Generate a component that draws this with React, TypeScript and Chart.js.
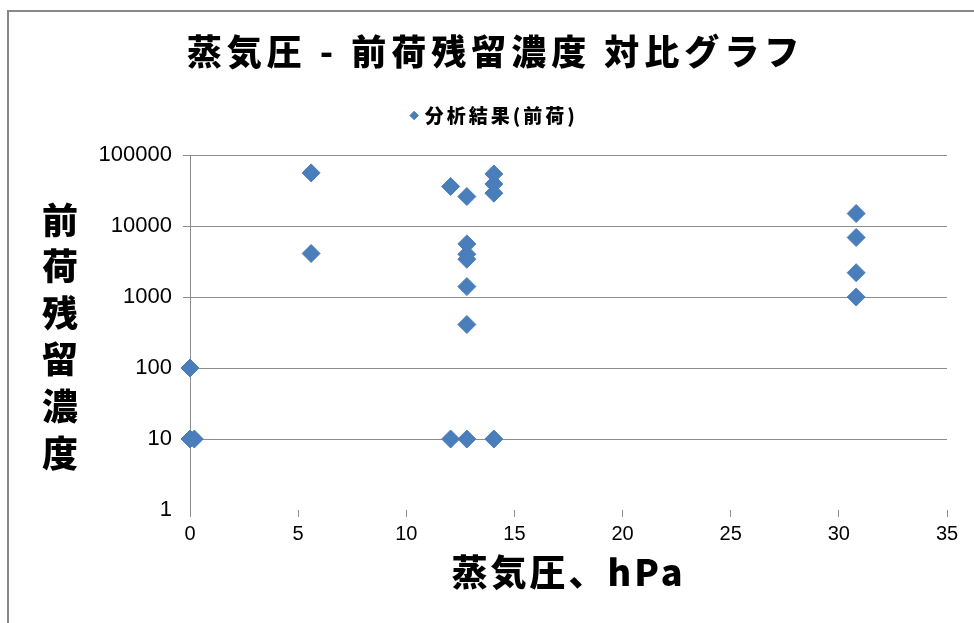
import React, { useEffect, useRef } from 'react';
import { Chart, registerables } from 'chart.js';

Chart.register(...registerables);

const TITLE = '蒸気圧 - 前荷残留濃度 対比グラフ';
const SERIES_LABEL = '分析結果(前荷)';
const X_TITLE = '蒸気圧、hPa';
const Y_TITLE = '前荷残留濃度';

const vaporPressure = [
  0, 0, 0.2, 5.6, 5.6, 12.05, 12.05, 12.8, 12.8, 12.8, 12.8, 12.8, 12.8, 12.8,
  14.05, 14.05, 14.05, 14.05, 30.8, 30.8, 30.8, 30.8,
];
const concentration = [
  100, 10, 10, 56000, 4100, 36000, 10, 26000, 5600, 4000, 3400, 1400, 410, 10,
  54000, 39000, 29000, 10, 15000, 6900, 2200, 1000,
];
const xTickStep = 5;
const xMin = 0;
const xMax = 35;
const yTicks = [1, 10, 100, 1000, 10000, 100000];

const CJK = '"Noto Sans CJK JP", "Noto Sans CJK SC", sans-serif';
const LATIN = '"Liberation Sans", Arial, sans-serif';
const MARKER = '#4A7EBB';
const GRID = '#8C8C8C';

function patchSpacing(obj: any, methods: string[], spacing: string, after?: (o: any) => void) {
  if (!obj) return;
  methods.forEach((m) => {
    const orig = obj[m].bind(obj);
    obj[m] = (...args: any[]) => {
      const ctx = obj.ctx as any;
      const prev = ctx.letterSpacing;
      ctx.letterSpacing = spacing;
      const r = orig(...args);
      ctx.letterSpacing = prev || '0px';
      if (m === 'fit' && after) after(obj);
      return r;
    };
  });
}

const spacingPlugin = {
  id: 'spacingPatch',
  beforeLayout(chart: any) {
    if (chart.__patched) return;
    chart.__patched = true;
    patchSpacing(chart.titleBlock, ['draw'], '5px');
    patchSpacing(chart.legend, ['fit', 'draw'], '3px', (o) => {
      o.height = 62;
    });
    patchSpacing(chart.scales.x, ['drawTitle'], '3px');
  },
};

const yTitlePlugin = {
  id: 'yTitleUpright',
  afterDraw(chart: any) {
    const { ctx, chartArea } = chart;
    const chars = Array.from(Y_TITLE);
    const step = 46.6;
    const mid = (chartArea.top + chartArea.bottom) / 2 + 4;
    const start = mid - (step * (chars.length - 1)) / 2;
    ctx.save();
    ctx.fillStyle = '#000';
    ctx.font = `900 36px ${CJK}`;
    ctx.textAlign = 'center';
    ctx.textBaseline = 'middle';
    chars.forEach((ch, i) => {
      ctx.fillText(ch, 60, start + i * step);
    });
    ctx.restore();
  },
};

export default function App() {
  const ref = useRef<HTMLCanvasElement | null>(null);

  useEffect(() => {
    if (!ref.current) return;
    const points = vaporPressure.map((x, i) => ({ x, y: concentration[i] }));
    const chart = new Chart(ref.current, {
      type: 'scatter',
      data: {
        datasets: [
          {
            label: SERIES_LABEL,
            data: points,
            pointStyle: 'rectRot',
            pointRadius: 9,
            pointBorderWidth: 1,
            backgroundColor: MARKER,
            borderColor: MARKER,
            clip: false,
          },
        ],
      },
      options: {
        animation: false,
        responsive: true,
        maintainAspectRatio: false,
        layout: { padding: { left: 44, right: 27, top: 0, bottom: 0 } },
        plugins: {
          title: {
            display: true,
            text: TITLE,
            color: '#000',
            font: { family: CJK, size: 35, weight: '900' },
            padding: { top: 31, bottom: 20 },
          },
          legend: {
            display: true,
            position: 'top',
            labels: {
              usePointStyle: true,
              boxHeight: 6,
              boxWidth: 2,
              color: '#000',
              padding: 13,
              font: { family: CJK, size: 19, weight: '900' },
            },
          },
          tooltip: { enabled: false },
        },
        scales: {
          x: {
            type: 'linear',
            min: xMin,
            max: xMax,
            ticks: {
              stepSize: xTickStep,
              color: '#000',
              padding: 5,
              font: { family: LATIN, size: 20 },
            },
            grid: {
              drawOnChartArea: false,
              drawTicks: true,
              tickLength: 7,
              color: GRID,
            },
            border: { display: false },
            title: {
              display: true,
              text: X_TITLE,
              color: '#000',
              font: { family: CJK, size: 36, weight: '900' },
              padding: { top: 4, bottom: 29 },
            },
            afterFit: (s: any) => {
              s.height = 113;
            },
          },
          y: {
            type: 'logarithmic',
            min: 1,
            max: 100000,
            afterBuildTicks: (s: any) => {
              s.ticks = yTicks.map((v) => ({ value: v }));
            },
            ticks: {
              autoSkip: false,
              color: '#000',
              padding: 11,
              font: { family: LATIN, size: 22 },
              callback: (v: any) => String(v),
            },
            grid: {
              color: (c: any) => (c.tick && c.tick.value === 1 ? 'rgba(0,0,0,0)' : GRID),
              tickLength: 7,
            },
            border: { display: true, color: GRID },
            afterFit: (s: any) => {
              s.width = 146;
            },
          },
        },
      } as any,
      plugins: [spacingPlugin, yTitlePlugin],
    });
    return () => chart.destroy();
  }, []);

  return (
    <div style={{ position: 'fixed', left: 0, top: 0, width: 974, height: 623, background: '#fff' }}>
      <canvas ref={ref} />
      <div
        style={{
          position: 'absolute',
          left: 7,
          top: 10,
          right: -10,
          bottom: -10,
          borderLeft: '2px solid #888888',
          borderTop: '2px solid #888888',
          pointerEvents: 'none',
        }}
      />
    </div>
  );
}
